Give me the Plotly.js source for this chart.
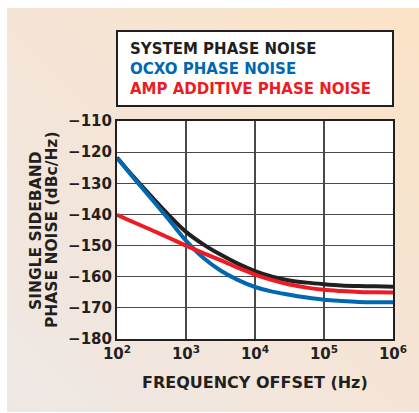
<!DOCTYPE html>
<html>
<head>
<meta charset="utf-8">
<script src="https://cdn.plot.ly/plotly-3.0.1.min.js"></script>
<style>
  html, body { margin: 0; padding: 0; background: #ffffff; }
  #wrap { position: relative; width: 419px; height: 413px; overflow: hidden; }
  #panel { position: absolute; left: 7px; top: 8px; width: 412px; height: 404px;
           background: linear-gradient(to top right, #eee8e5 0%, #f4e5d8 45%, #fbe3c6 100%); }
  #chart { position: absolute; left: 0; top: 0; width: 419px; height: 413px; }
</style>
</head>
<body>
<div id="wrap">
  <div id="panel"></div>
  <div id="chart"></div>
</div>
<script>
// Frequency offset (Hz)
const freq = [100, 178, 316, 562, 1000, 1780, 3160, 5620, 10000, 17800, 31600, 56200, 100000, 178000, 316000, 562000, 1000000];
// Single sideband phase noise (dBc/Hz)
const systemNoise = [-121.7, -128.2, -134.3, -140.2, -145.6, -149.6, -152.9, -155.8, -158.2, -160.0, -161.2, -161.9, -162.4, -162.8, -163.0, -163.1, -163.2];
const ocxoNoise   = [-121.8, -128.5, -135.0, -141.6, -148.4, -153.9, -158.0, -161.0, -163.3, -164.8, -165.8, -166.7, -167.4, -167.8, -168.1, -168.2, -168.2];
const ampNoise    = [-140.1, -142.6, -145.0, -147.5, -150.0, -152.4, -154.7, -157.1, -159.3, -161.1, -162.5, -163.5, -164.2, -164.6, -164.9, -165.0, -165.1];

const seriesNames = ['SYSTEM PHASE NOISE', 'OCXO PHASE NOISE', 'AMP ADDITIVE PHASE NOISE'];
const seriesColors = ['#231f20', '#0067b1', '#ed1c24'];

const xTickVals = [100, 1000, 10000, 100000, 1000000];
const xTickText = ['10<sup>2</sup>', '10<sup>3</sup>', '10<sup>4</sup>', '10<sup>5</sup>', '10<sup>6</sup>'];
const yTickVals = [-110, -120, -130, -140, -150, -160, -170, -180];
const yTickText = ['\u2212110', '\u2212120', '\u2212130', '\u2212140', '\u2212150', '\u2212160', '\u2212170', '\u2212180'];

const font = 'DejaVu Sans, sans-serif';
const ink = '#231f20';

function trace(y, i) {
  return { x: freq, y: y, mode: 'lines', name: seriesNames[i], showlegend: false,
           line: { color: seriesColors[i], width: 4, shape: 'spline', smoothing: 1 },
           hoverinfo: 'skip' };
}
const data = [trace(systemNoise, 0), trace(ocxoNoise, 1), trace(ampNoise, 2)];

const L = 117, R = 393, T = 121, B = 339, W = 419, H = 413;
const px2x = p => (p - L) / (R - L);
const py2y = p => (B - p) / (B - T);

const legendY = [49, 69, 89];
const annotations = seriesNames.map((n, i) => ({
  xref: 'paper', yref: 'paper', x: px2x(128), y: py2y(legendY[i]),
  xanchor: 'left', yanchor: 'middle', showarrow: false, text: n,
  font: { family: font, size: 15, color: seriesColors[i], weight: 'bold' }
}));
annotations.push({
  xref: 'paper', yref: 'paper', x: px2x(36), y: 0.5, xanchor: 'center', yanchor: 'middle',
  showarrow: false, textangle: -90, text: 'SINGLE SIDEBAND',
  font: { family: font, size: 15.5, color: ink, weight: 'bold' }
});
annotations.push({
  xref: 'paper', yref: 'paper', x: px2x(52), y: 0.5, xanchor: 'center', yanchor: 'middle',
  showarrow: false, textangle: -90, text: 'PHASE NOISE (dBc/Hz)',
  font: { family: font, size: 15.5, color: ink, weight: 'bold' }
});
annotations.push({
  xref: 'paper', yref: 'paper', x: 0.5, y: py2y(382), xanchor: 'center', yanchor: 'middle',
  showarrow: false, text: 'FREQUENCY OFFSET (Hz)',
  font: { family: font, size: 16, color: ink, weight: 'bold' }
});

const layout = {
  width: W, height: H,
  margin: { l: L, r: W - R, t: T, b: H - B, pad: 0 },
  paper_bgcolor: 'rgba(0,0,0,0)',
  plot_bgcolor: '#ffffff',
  showlegend: false,
  xaxis: {
    type: 'log', range: [2, 6], tickvals: xTickVals, ticktext: xTickText,
    showgrid: true, gridcolor: '#4a4a4a', gridwidth: 1.2, zeroline: false,
    showline: true, mirror: true, linecolor: ink, linewidth: 2, ticks: '',
    tickfont: { family: font, size: 15, color: ink, weight: 'bold' }
  },
  yaxis: {
    range: [-180, -110], tickvals: yTickVals, ticktext: yTickText,
    showgrid: true, gridcolor: '#4a4a4a', gridwidth: 1.2, zeroline: false,
    showline: true, mirror: true, linecolor: ink, linewidth: 2, ticks: '',
    tickfont: { family: font, size: 15, color: ink, weight: 'bold' }
  },
  shapes: [{
    type: 'rect', xref: 'paper', yref: 'paper',
    x0: px2x(117), x1: px2x(393), y0: py2y(106), y1: py2y(31),
    line: { color: ink, width: 2 }, fillcolor: '#ffffff', layer: 'below'
  }],
  annotations: annotations
};

Plotly.newPlot('chart', data, layout, { displayModeBar: false, staticPlot: true });
</script>
</body>
</html>
